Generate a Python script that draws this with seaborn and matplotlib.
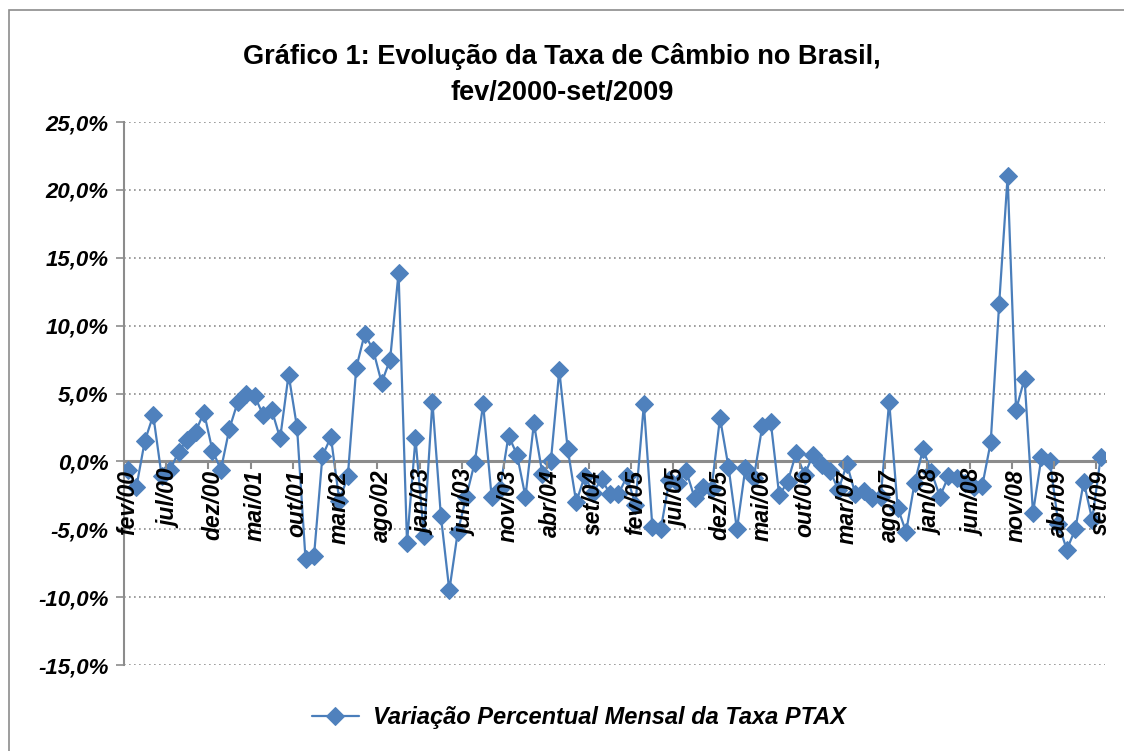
import numpy as np
import pandas as pd
import seaborn as sns
import matplotlib.pyplot as plt
from matplotlib.patches import Rectangle

# monthly % change of PTAX rate, fev/2000 .. set/2009 (116 months)
variacao = [
    -0.6, -1.9, 1.5, 3.4, -1.1, -0.6, 0.7, 1.6, 2.2, 3.6, 0.8,          # 2000
    -0.6, 2.4, 4.4, 5.0, 4.8, 3.4, 3.8, 1.7, 6.4, 2.5, -7.2, -7.0,      # 2001
    0.4, 1.8, -2.9, -1.1, 6.9, 9.4, 8.2, 5.8, 7.5, 13.9, -6.0, 1.7,     # 2002
    -5.5, 4.4, -4.0, -9.5, -5.2, -2.6, -0.1, 4.2, -2.6, -2.0, 1.9, 0.5, # 2003
    -2.6, 2.8, -0.9, 0.0, 6.7, 0.9, -3.0, -1.1, -2.3, -1.3, -2.4, -2.4, # 2004
    -1.1, -3.2, 4.2, -4.8, -5.0, -1.4, -1.6, -0.7, -2.7, -1.9, -2.0, 3.2,  # 2005
    -0.4, -5.0, -0.5, -1.2, 2.6, 2.9, -2.5, -1.5, 0.6, -1.0, 0.5, -0.3, # 2006
    -0.7, -2.1, -0.2, -2.4, -2.2, -2.7, -2.6, 4.4, -3.4, -5.2, -1.6, 0.9,  # 2007
    -0.8, -2.6, -1.1, -1.2, -1.6, -1.9, -1.8, 1.4, 11.6, 21.0, 3.8, 6.1,   # 2008
    -3.8, 0.3, 0.0, -4.6, -6.5, -5.0, -1.5, -4.3, 0.3,                  # 2009
]

x_labels = ['fev/00', 'jul/00', 'dez/00', 'mai/01', 'out/01', 'mar/02',
            'ago/02', 'jan/03', 'jun/03', 'nov/03', 'abr/04', 'set/04',
            'fev/05', 'jul/05', 'dez/05', 'mai/06', 'out/06', 'mar/07',
            'ago/07', 'jan/08', 'jun/08', 'nov/08', 'abr/09', 'set/09']
y_ticks = [-15, -10, -5, 0, 5, 10, 15, 20, 25]
y_labels = ['-15,0%', '-10,0%', '-5,0%', '0,0%', '5,0%', '10,0%',
            '15,0%', '20,0%', '25,0%']

serie = 'Variação Percentual Mensal da Taxa PTAX'
df = pd.DataFrame({'mes': np.arange(len(variacao)), 'valor': variacao})

sns.set_style('white')
plt.rcParams['font.family'] = ['Liberation Sans', 'DejaVu Sans']
plt.rcParams['text.color'] = 'black'

fig = plt.figure(figsize=(11.24, 7.51), dpi=100)
ax = fig.add_axes([0.110, 0.1145, 0.873, 0.723])

# chart border (Excel chart area)
fig.patches.append(Rectangle((9 / 1124, -0.1), 1.2, 1.1 - 10 / 751,
                             transform=fig.transFigure, fill=False,
                             edgecolor='#8c8c8c', linewidth=1.2))

sns.lineplot(data=df, x='mes', y='valor', ax=ax, color='#4a7ebb',
             linewidth=1.6, marker='D', markersize=9.5,
             markerfacecolor='#4f81bd', markeredgecolor='#4f81bd',
             label=serie, zorder=3)

# grid
for v in y_ticks:
    if v != 0:
        ax.axhline(v, color='#8c8c8c', linestyle=(0, (1, 2)), linewidth=1.2,
                   zorder=1)

ax.spines['top'].set_visible(False)
ax.spines['right'].set_visible(False)
ax.spines['left'].set_color('#8c8c8c')
ax.spines['left'].set_linewidth(1.5)
ax.spines['bottom'].set_position(('data', 0))
ax.spines['bottom'].set_color('#8c8c8c')
ax.spines['bottom'].set_linewidth(2.2)
ax.spines['bottom'].set_zorder(2)

ax.set_yticks(y_ticks)
ax.set_yticklabels(y_labels, fontsize=16, fontweight='bold', style='italic')
ax.tick_params(axis='y', length=6, color='#8c8c8c', width=1.2, pad=5,
               direction='out', left=True, labelcolor='black')

ax.set_xticks(np.arange(0, len(variacao), 5))
ax.set_xticklabels(x_labels, rotation=90, fontsize=16.5, fontweight='bold',
                   style='italic')
ax.set_xticks(np.arange(0, len(variacao) - 1, 5) + 4.5, minor=True)
ax.tick_params(axis='x', which='major', length=0, pad=6, labelcolor='black')
ax.tick_params(axis='x', which='minor', length=6, color='#8c8c8c', width=1.5,
               direction='out', bottom=True)
ax.xaxis.set_zorder(5)

ax.set_xlim(-0.5, len(variacao) - 0.5)
ax.set_ylim(-15, 25)
ax.set_xlabel('')
ax.set_ylabel('')

fig.text(0.5, 0.925, 'Gráfico 1: Evolução da Taxa de Câmbio no Brasil,',
         ha='center', va='center', fontsize=19.5, fontweight='bold')
fig.text(0.5, 0.876, 'fev/2000-set/2009', ha='center', va='center',
         fontsize=19.5, fontweight='bold')

ax.get_legend().remove()
handles, labels = ax.get_legend_handles_labels()
fig.legend(handles, labels, loc='center', bbox_to_anchor=(0.515, 0.044),
           frameon=False, handlelength=2.0, handletextpad=0.6,
           prop={'size': 17, 'weight': 'bold', 'style': 'italic'})

fig.savefig('out.png', dpi=100)
